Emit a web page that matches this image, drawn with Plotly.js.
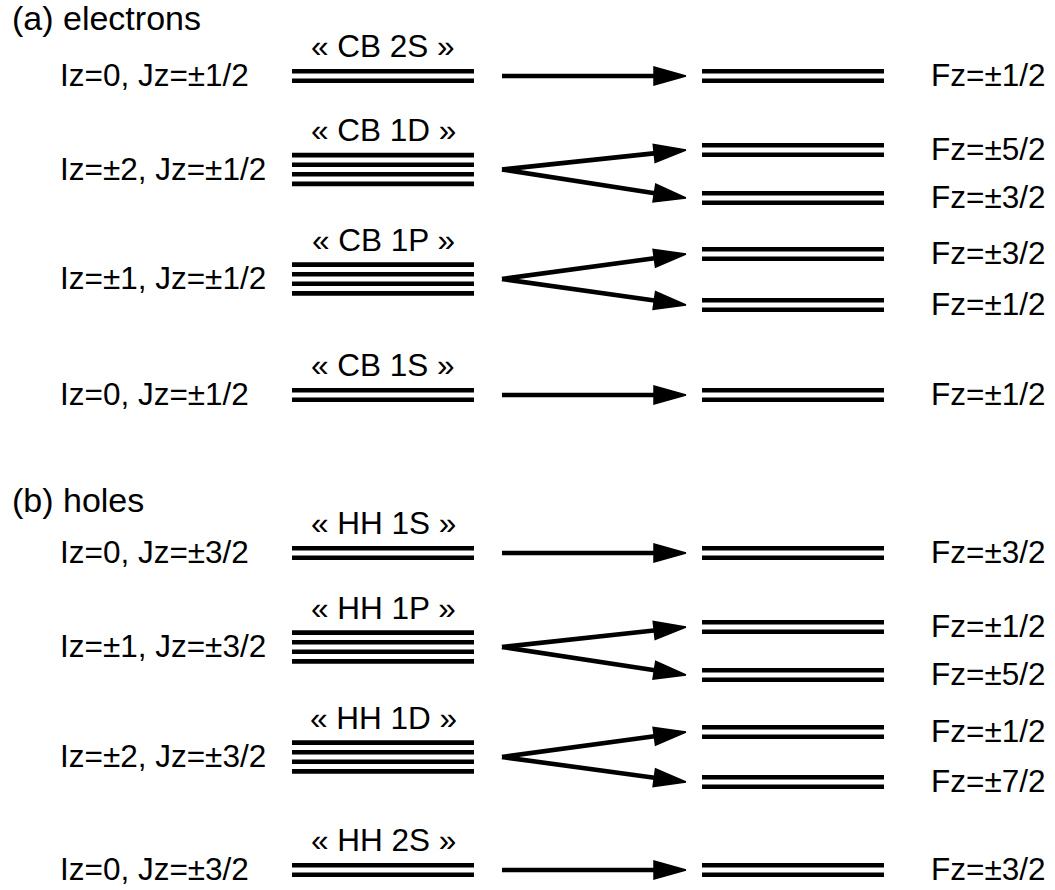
<!DOCTYPE html>
<html>
<head>
<meta charset="utf-8">
<script src="https://cdn.plot.ly/plotly-3.0.1.min.js"></script>
<style>html,body{margin:0;padding:0;background:#fff;}#plot{width:1055px;height:890px;}</style>
</head>
<body>
<div id="plot"></div>
<script>
// ---- data ----
const panelTitles = ['(a) electrons', '(b) holes'];
const panelTitleY = [18, 500];

const stateNames = ['« CB 2S »', '« CB 1D »', '« CB 1P »', '« CB 1S »',
                    '« HH 1S »', '« HH 1P »', '« HH 1D »', '« HH 2S »'];
const quantumLabels = ['Iz=0, Jz=±1/2', 'Iz=±2, Jz=±1/2', 'Iz=±1, Jz=±1/2', 'Iz=0, Jz=±1/2',
                       'Iz=0, Jz=±3/2', 'Iz=±1, Jz=±3/2', 'Iz=±2, Jz=±3/2', 'Iz=0, Jz=±3/2'];
const degeneracy = [2, 4, 4, 2, 2, 4, 4, 2];
// level positions (diagram energy axis, top = 0)
const levelPos = [76, 169.5, 279, 395, 553, 647, 757, 870];
const splitLabels = [['Fz=±1/2'], ['Fz=±5/2', 'Fz=±3/2'], ['Fz=±3/2', 'Fz=±1/2'], ['Fz=±1/2'],
                     ['Fz=±3/2'], ['Fz=±1/2', 'Fz=±5/2'], ['Fz=±1/2', 'Fz=±7/2'], ['Fz=±3/2']];
const splitPos = [[76], [150, 198], [254, 305], [395],
                  [553], [627, 675], [732, 782], [870]];

// ---- layout constants ----
const W = 1055, H = 890;
const leftX = [292, 474], rightX = [702, 884];
const arrowX0 = 502, arrowX1 = 686;
const sub = 9.6;           // spacing of degenerate sublevels
const headLen = 32, headHalf = 9;
const FONT = 'Liberation Sans, Arial, Helvetica, sans-serif';
const fs = 31.5;

const traces = [];
const lx = [], ly = [];
levelPos.forEach((c, i) => {
  const n = degeneracy[i];
  for (let k = 0; k < n; k++) {
    const y = c + (k - (n - 1) / 2) * sub;
    lx.push(leftX[0], leftX[1], null); ly.push(y, y, null);
  }
  splitPos[i].forEach(s => {
    for (let k = 0; k < 2; k++) {
      const y = s + (k - 0.5) * sub;
      lx.push(rightX[0], rightX[1], null); ly.push(y, y, null);
    }
  });
});
traces.push({x: lx, y: ly, mode: 'lines', line: {color: '#000', width: 4.6}, hoverinfo: 'skip'});

// arrows
const ax = [], ay = [];
levelPos.forEach((c, i) => {
  splitPos[i].forEach(s => {
    const dx = arrowX1 - arrowX0, dy = s - c;
    const L = Math.hypot(dx, dy), ux = dx / L, uy = dy / L;
    const bx = arrowX1 - ux * headLen, by = s - uy * headLen;
    ax.push(arrowX0, bx + ux * 2, null); ay.push(c, by + uy * 2, null);
    traces.push({
      x: [arrowX1, bx - uy * headHalf, bx + uy * headHalf, arrowX1],
      y: [s, by + ux * headHalf, by - ux * headHalf, s],
      mode: 'lines', fill: 'toself', fillcolor: '#000',
      line: {color: '#000', width: 1.5}, hoverinfo: 'skip'
    });
  });
});
traces.push({x: ax, y: ay, mode: 'lines', line: {color: '#000', width: 4.6}, hoverinfo: 'skip'});

const ann = [];
panelTitles.forEach((t, i) => ann.push({text: t, x: 10, y: panelTitleY[i], xanchor: 'left', yanchor: 'middle',
  font: {size: 34, color: '#000', family: FONT}}));
stateNames.forEach((t, i) => {
  const top = levelPos[i] - (degeneracy[i] - 1) / 2 * sub;
  ann.push({text: t, x: (leftX[0] + leftX[1]) / 2, y: top - 25, xanchor: 'center', yanchor: 'middle',
    font: {size: fs, color: '#000', family: FONT}});
  ann.push({text: quantumLabels[i], x: 58, y: levelPos[i] - 1, xanchor: 'left', yanchor: 'middle',
    font: {size: fs, color: '#000', family: FONT}});
  splitLabels[i].forEach((f, j) => ann.push({text: f, x: 929, y: splitPos[i][j] - 1, xanchor: 'left', yanchor: 'middle',
    font: {size: fs, color: '#000', family: FONT}}));
});
ann.forEach(a => { a.showarrow = false; a.xref = 'x'; a.yref = 'y'; });

const layout = {
  width: W, height: H,
  margin: {l: 0, r: 0, t: 0, b: 0},
  paper_bgcolor: '#fff', plot_bgcolor: '#fff',
  showlegend: false,
  xaxis: {range: [0, W], visible: false, fixedrange: true},
  yaxis: {range: [H, 0], visible: false, fixedrange: true},
  annotations: ann,
  font: {family: FONT}
};
Plotly.newPlot('plot', traces, layout, {staticPlot: true, displayModeBar: false});
</script>
</body>
</html>
